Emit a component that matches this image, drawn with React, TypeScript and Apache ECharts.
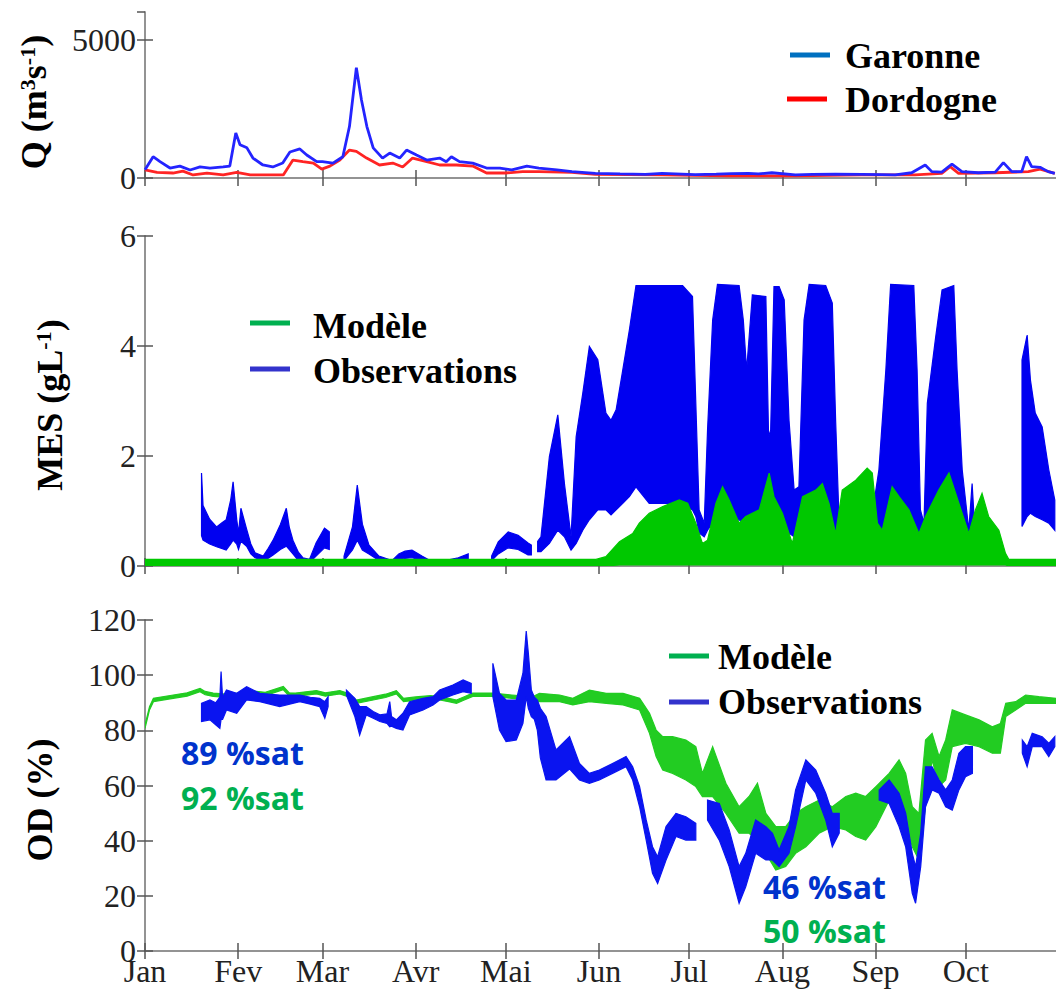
import React, { useEffect, useRef } from "react";
import * as echarts from "echarts";

type Pt = [number, number];
type Band = [number, number, number] | null;

const MONTH_DAYS = [0, 31, 59, 90, 120, 151, 181, 212, 243, 273];
const MONTH_LABELS = ["Jan", "Fev", "Mar", "Avr", "Mai", "Jun", "Jul", "Aug", "Sep", "Oct"];
const X_MAX = 303;

// Débit (m3/s), day of year
const GARONNE: Pt[] = [
  [0, 300], [2.7, 770], [5, 590], [8.3, 360], [11.6, 430], [15, 290], [18.3, 400], [21.6, 360], [26, 400],
  [28.2, 430], [30.2, 1630], [31.6, 1200], [33.9, 1090], [35.9, 720], [39.2, 470], [42.5, 400], [45.8, 540],
  [48.2, 940], [51.5, 1050], [53.8, 830], [57.1, 590], [59, 590], [62.5, 540], [65.8, 770], [68, 1860],
  [70.3, 3985], [72, 2820], [73.8, 1860], [75.9, 1090], [79, 720], [81.4, 900], [84.7, 720], [87, 1010],
  [90.3, 830], [93.7, 650], [98, 720], [100.2, 590], [101.9, 770], [104.6, 590], [109, 540], [113.6, 360],
  [118, 360], [122, 290], [127, 430], [131, 360], [137, 290], [142, 230], [149.8, 170], [158, 150],
  [166.4, 130], [172, 170], [183, 120], [190, 140], [195, 160], [200.7, 170], [204, 150], [208.5, 190],
  [216.3, 110], [222, 130], [229.6, 140], [238.4, 130], [245, 120], [249.5, 110], [255, 190], [259.5, 470],
  [261.7, 230], [265, 210], [268.4, 505], [271.7, 230], [277.2, 190], [282.8, 210], [285.5, 555],
  [288.3, 230], [291.6, 230], [293.2, 770], [294.9, 410], [297.7, 385], [300.4, 230], [302.6, 170],
];
const DORDOGNE: Pt[] = [
  [0, 290], [4, 200], [9.3, 180], [12.6, 250], [16, 110], [20.6, 180], [26, 110], [30.5, 200], [35, 110],
  [40.5, 110], [46, 110], [49.2, 650], [52.5, 590], [56, 540], [58.8, 320], [61.5, 430], [64.8, 650],
  [68, 1010], [70.3, 960], [73.7, 720], [78, 470], [82.4, 540], [85.7, 400], [89, 720], [93.7, 590],
  [98, 470], [103.6, 470], [109, 430], [113.6, 180], [120, 180], [125.6, 230], [131, 230], [142, 200],
  [149.8, 130], [172, 110], [194, 80], [216.3, 80], [238.4, 110], [256.1, 110], [265, 170], [267.8, 410],
  [270.6, 170], [282.8, 190], [293.8, 230], [297.7, 320], [302.6, 170],
];

// MES (g/L): [day, low, high] envelopes, null = gap
const MES_OBS: Band[] = [
  [18.8, 0.55, 1.69], [19.3, 0.47, 1.1], [21.5, 0.4, 0.85], [23.8, 0.35, 0.71], [25.5, 0.32, 0.78],
  [27.0, 0.29, 0.84], [28.5, 0.4, 1.2], [29.3, 0.47, 1.53], [30.5, 0.4, 0.85], [31.1, 0.3, 0.6],
  [31.9, 0.45, 1.05], [33.8, 0.36, 0.67], [35.2, 0.22, 0.4], [36.6, 0.15, 0.24], [39.3, 0.1, 0.18],
  [41.0, 0.14, 0.32], [42.6, 0.2, 0.47], [45.0, 0.3, 0.75], [47.0, 0.36, 1.05], [48.0, 0.3, 0.7],
  [49.2, 0.22, 0.47], [51.0, 0.1, 0.25], [52.5, 0.06, 0.15], [54.7, 0.06, 0.12], [56.9, 0.18, 0.42],
  [59.7, 0.33, 0.69], [61.3, 0.3, 0.62],
  null,
  [66.2, 0.1, 0.18], [69.0, 0.29, 0.71], [70.6, 0.47, 1.47], [72.3, 0.29, 0.76], [74.5, 0.22, 0.38],
  [77.8, 0.1, 0.18], [82.2, 0.04, 0.1], [84.4, 0.1, 0.22], [86.5, 0.14, 0.27], [88.8, 0.15, 0.29],
  [92.1, 0.1, 0.18], [95.4, 0.04, 0.08], [99.8, 0.04, 0.1], [104.2, 0.08, 0.15], [107.5, 0.1, 0.22],
  null,
  [115.3, 0.1, 0.18], [117.5, 0.22, 0.44], [120.8, 0.33, 0.62], [124.1, 0.3, 0.56], [127.4, 0.2, 0.42],
  [128.5, 0.2, 0.38],
  null,
  [130.6, 0.26, 0.45], [131.7, 0.26, 0.53], [134.5, 0.41, 1.99], [137.3, 0.65, 2.75], [139.5, 0.53, 1.5],
  [141.7, 0.29, 0.53], [143.4, 0.41, 2.35], [145.6, 0.65, 3.14], [147.8, 0.84, 3.99], [150.6, 1.02, 3.75],
  [153.3, 1.02, 2.78], [155.0, 0.93, 2.65], [156.7, 1.02, 2.84], [158.9, 1.14, 3.56], [161.1, 1.26, 4.29],
  [163.3, 1.44, 5.1], [167.7, 1.14, 5.1], [173.3, 1.14, 5.1], [178.8, 1.14, 5.1], [182.1, 1.02, 4.9],
  [183.2, 0.9, 2.96], [184.3, 0.6, 1.02], [186.0, 0.53, 0.78], [187.1, 0.65, 2.47], [188.8, 0.78, 4.47],
  [190.4, 0.84, 5.12], [197.6, 0.84, 5.1], [199.0, 0.78, 4.47], [200.1, 0.78, 3.56], [202.0, 0.78, 4.93],
  [206.5, 0.78, 4.9], [207.4, 0.78, 2.35], [208.1, 0.78, 2.47], [209.2, 0.78, 5.08], [210.9, 0.78, 5.08],
  [212.6, 0.72, 4.84], [214.2, 0.6, 2.65], [215.9, 0.53, 1.38], [217.5, 0.6, 1.44], [219.2, 0.65, 4.47],
  [220.9, 0.65, 5.12], [226.4, 0.65, 5.1], [228.6, 0.6, 4.78], [229.7, 0.53, 2.65], [230.8, 0.41, 0.9],
  [236.4, 0.45, 0.9], [241.9, 0.45, 0.95], [244.1, 0.41, 1.75], [246.4, 0.53, 3.56], [248.0, 0.6, 5.12],
  [255.7, 0.6, 5.1], [256.8, 0.53, 3.56], [257.9, 0.41, 1.02], [259.1, 0.41, 0.78], [260.2, 0.53, 2.96],
  [263.0, 0.65, 4.17], [265.1, 0.65, 5.02], [269.0, 0.6, 5.1], [270.1, 0.6, 3.56], [271.8, 0.6, 1.75],
  [274.0, 0.41, 0.65], [275.1, 0.47, 1.5], [276.0, 0.41, 0.65],
  null,
  [291.7, 0.72, 3.75], [293.4, 0.9, 4.2], [294.5, 0.96, 3.38], [296.1, 0.9, 2.78], [298.4, 0.84, 2.53],
  [300.6, 0.78, 1.75], [302.6, 0.65, 1.2],
];
const MES_MODEL: Band[] = [
  [0, 0, 0.12], [40, 0, 0.12], [80, 0, 0.12], [120, 0, 0.12], [150, 0, 0.12], [153.3, 0, 0.17],
  [157.8, 0.02, 0.44], [162.2, 0.02, 0.59], [164.4, 0.02, 0.78], [167.7, 0.02, 0.96], [172.2, 0.02, 1.08],
  [177.7, 0.02, 1.2], [180.5, 0.02, 1.14], [183.2, 0.02, 0.78], [185.4, 0.02, 0.41], [187.1, 0.02, 0.47],
  [189.9, 0.02, 1.14], [192.1, 0.02, 1.44], [194.3, 0.02, 1.2], [197.6, 0.02, 0.78], [199.8, 0.02, 0.9],
  [204.3, 0.02, 1.02], [207.6, 0.02, 1.69], [209.2, 0.02, 1.26], [212.0, 0.02, 0.96], [215.3, 0.02, 0.41],
  [218.7, 0.02, 1.26], [223.1, 0.02, 1.38], [225.3, 0.02, 1.5], [227.5, 0.02, 1.14], [229.7, 0.02, 0.59],
  [231.9, 0.02, 1.38], [236.4, 0.02, 1.56], [240.2, 0.02, 1.78], [241.9, 0.02, 1.69], [243.6, 0.02, 0.78],
  [245.2, 0.02, 0.65], [248.5, 0.02, 1.44], [250.8, 0.02, 1.26], [254.1, 0.02, 1.02], [257.4, 0.02, 0.59],
  [259.6, 0.02, 0.9], [264.0, 0.02, 1.38], [267.4, 0.02, 1.69], [270.7, 0.02, 1.14], [274.0, 0.02, 0.59],
  [276.2, 0.02, 1.02], [278.4, 0.02, 1.32], [280.6, 0.02, 0.9], [284.0, 0.02, 0.65], [286.2, 0.02, 0.23],
  [287.3, 0, 0.12], [303, 0, 0.12],
];

// OD (% sat): [day, low, high]
const OD_MODEL: Band[] = [
  [0, 80.7, 81.9], [1.5, 87.4, 88.6], [2.8, 90.4, 91.6], [9.4, 91.6, 92.8], [14, 92.4, 93.6], [18.3, 94, 95.2],
  [20, 92.9, 94.1], [22.7, 92.3, 93.5], [27, 91.9, 93.1], [31.6, 92.3, 93.5], [35, 93.2, 94.4], [40, 92.6, 93.8],
  [46, 94.7, 95.9], [48, 92.4, 93.6], [50, 92.3, 93.5], [57, 93.2, 94.4], [60, 92.4, 93.6], [64.8, 93.2, 94.4],
  [67, 92.4, 93.6], [70.3, 89.8, 91], [75.9, 91, 92.2], [80, 91.9, 93.1], [83.6, 93.2, 94.4], [86, 90.4, 91.6],
  [90, 90.9, 92.1], [95, 91.4, 92.6], [98, 91, 92.2], [101, 90.4, 91.6], [103.6, 89.8, 91], [106, 90.9, 92.1],
  [109, 92.3, 93.5], [115.6, 92.3, 93.5], [122, 91.6, 92.8], [128.9, 91, 92.2], [131.2, 90.4, 93.4],
  [137.9, 90.4, 92.8], [142.3, 89.2, 91.6], [147.8, 90.4, 94.6], [153.4, 89.8, 93.4], [159, 89.2, 93.4],
  [164.5, 87.4, 91.6], [167.8, 78.9, 86.2], [170.0, 70.5, 80.1], [172.2, 65.6, 77.7], [175.5, 64.4, 77.7],
  [179.9, 62.0, 76.5], [183.2, 59.6, 74.1], [185.4, 56.0, 64.4], [188.8, 56.0, 74.1], [193.2, 49.9, 60.8],
  [197.6, 42.7, 52.3], [200.9, 42.7, 56.0], [203.7, 40.2, 60.8], [206.5, 35.4, 49.9], [209.8, 29.4, 45.1],
  [213.1, 30.6, 45.1], [216.4, 35.4, 49.9], [219.8, 37.8, 52.3], [224.2, 42.7, 54.7], [228.6, 45.1, 52.3],
  [233.1, 43.9, 56.0], [236.4, 41.5, 57.2], [239.7, 40.2, 56.0], [243.1, 45.1, 59.6], [247.5, 54.7, 64.4],
  [250.8, 52.3, 69.3], [253.0, 47.5, 64.4], [255.2, 37.8, 52.3], [257.4, 33.0, 49.9], [259.6, 52.3, 76.5],
  [261.8, 69.3, 78.9], [264.1, 59.6, 70.5], [266.3, 62.0, 76.5], [268.5, 74.1, 87.4], [272.9, 75.3, 85.6],
  [277.4, 74.1, 83.8], [281.8, 71.7, 81.3], [284.5, 71.7, 82.5], [286.3, 85.0, 89.8], [289.6, 87.4, 90.4],
  [292.9, 89.8, 92.8], [297.3, 89.8, 92.2], [303, 89.8, 91.6],
];
const OD_OBS: Band[] = [
  [18.8, 83.2, 89.8], [21.6, 83.8, 91.0], [23.5, 82, 90], [24.9, 80.7, 92.0], [25.3, 84, 101.3], [25.8, 84, 92],
  [27.1, 87.4, 94.6], [30.5, 86.2, 93.4], [33.8, 91.0, 95.8], [38.2, 90.4, 93.4], [44.8, 88.6, 92.8],
  [51.5, 90.4, 92.8], [55, 89.5, 92], [58.1, 88.6, 91.6], [59.8, 84.4, 90.4], [60.9, 88.6, 92.2],
  null,
  [67.0, 92.8, 94.6], [69.8, 85.0, 91.6], [71.4, 78.3, 88.6], [73.6, 85.6, 88.6], [75.9, 84.4, 86.8],
  [78.1, 83.2, 85.6], [80.5, 82.5, 86], [81.4, 81.3, 90.4], [82, 81.5, 85], [83.6, 80.7, 83.8],
  [85.8, 80.1, 86.2], [88.0, 85.6, 90.4], [92.5, 87.4, 91.6], [95.8, 89.2, 92.2], [98.0, 91.0, 94.6],
  [102.4, 92.8, 96.4], [105.8, 94.0, 98.3], [108.5, 93.4, 97.0],
  null,
  [115.7, 92.2, 104.3], [117.9, 80.1, 93.4], [120.1, 75.9, 91.0], [123.5, 76.5, 91.0], [125.7, 82.5, 100.7],
  [126.8, 92.2, 116], [127.5, 88, 108], [128.5, 85.0, 94.6], [129.5, 84, 92], [130.5, 80, 91],
  [131.5, 70, 88], [133.4, 62, 85], [136.7, 62, 72.9], [141.2, 66, 77.7], [144.5, 62, 68], [147.8, 60.8, 64.4],
  [151.1, 62, 65.6], [155.5, 64.4, 68], [160.0, 66.8, 70.5], [162.2, 62, 66.8], [164.5, 52.3, 59.6],
  [166.7, 40.2, 47.5], [168.8, 28.2, 37.8], [170.5, 24.5, 34.2], [173.3, 33, 45.1], [176.6, 41.5, 49.9],
  [179.9, 40.2, 48.7], [183.2, 40.2, 46.3],
  null,
  [187.1, 47.5, 54.7], [191.0, 40.2, 53.5], [194.3, 30.6, 43.9], [197.6, 17.3, 30.6], [199.8, 23.3, 35.4],
  [203.1, 35.4, 47.5], [206.5, 33.0, 45.1], [208.7, 33.0, 42.7], [210.9, 30.6, 36.6], [214.2, 35.4, 45.1],
  [216.4, 45.1, 58.4], [219.8, 62.0, 69.3], [223.1, 57.2, 65.6], [226.4, 47.5, 57.2], [228.6, 37.8, 49.9],
  [230.9, 42.7, 49.9],
  null,
  [244.2, 54.7, 58.4], [247.5, 53.5, 62.0], [250.8, 45.1, 57.2], [253.0, 37.8, 50], [255.2, 20.9, 35.4],
  [256.3, 17.3, 30.6], [258.0, 30.6, 42.7], [259.6, 52.3, 66.8], [261.8, 58.4, 66.8], [264.1, 57.2, 62.0],
  [266.3, 52.3, 58.4], [268.5, 51.1, 62.0], [270.7, 58.4, 71.7], [272.9, 63.2, 74.1], [275.2, 64.4, 74.1],
  null,
  [291.8, 71.7, 76.5], [293.4, 66.8, 74.1], [295.1, 74.1, 78.9], [298.4, 74.1, 77.7], [300.6, 70.5, 75.3],
  [302.6, 74.1, 77.7],
];

const SERIF = '"Liberation Serif", "Times New Roman", serif';
const AXIS_GRAY = "#8c8c8c";

function toSegments(points: Band[]): [number, number, number][][] {
  const segs: [number, number, number][][] = [];
  let cur: [number, number, number][] = [];
  for (const p of points) {
    if (p === null) {
      if (cur.length) segs.push(cur);
      cur = [];
    } else cur.push(p);
  }
  if (cur.length) segs.push(cur);
  return segs;
}

function bandSeries(name: string, points: Band[], color: string, idx: number, z: number) {
  const segs = toSegments(points);
  return {
    type: "custom",
    name,
    xAxisIndex: idx * 2,
    yAxisIndex: idx * 2,
    z,
    clip: true,
    data: segs.map((s, k) => [s[0][0], s[0][2], k]),
    encode: { x: 0, y: 1 },
    renderItem: (_params: any, api: any) => {
      const seg = segs[api.value(2)];
      const pts: number[][] = [];
      for (const p of seg) pts.push(api.coord([p[0], p[2]]));
      for (let i = seg.length - 1; i >= 0; i--) pts.push(api.coord([seg[i][0], seg[i][1]]));
      return {
        type: "polygon",
        shape: { points: pts },
        style: { fill: color, stroke: color, lineWidth: 1.2 },
      };
    },
  };
}

const GRIDS = [
  { top: 12, height: 166 },
  { top: 236, height: 330 },
  { top: 620, height: 331 },
];
const Y_RANGES = [
  { min: 0, max: 6000, interval: 5000 },
  { min: 0, max: 6, interval: 2 },
  { min: 0, max: 120, interval: 20 },
];

function buildOption() {
  const grid = GRIDS.map((g) => ({ left: 145, width: 913, top: g.top, height: g.height }));
  const xAxis: any[] = [];
  const yAxis: any[] = [];
  GRIDS.forEach((_, i) => {
    const base = {
      type: "value",
      gridIndex: i,
      min: 0,
      max: X_MAX,
      splitLine: { show: false },
      axisLine: { show: true, lineStyle: { color: AXIS_GRAY, width: 1.5 } },
      axisTick: { show: true, inside: true, length: 8, customValues: MONTH_DAYS, lineStyle: { color: "#555", width: 1.5 } },
    };
    xAxis.push({
      ...base,
      position: "bottom",
      axisLabel: {
        show: i === 2,
        customValues: MONTH_DAYS,
        formatter: (v: number) => {
          const k = MONTH_DAYS.indexOf(v);
          return k >= 0 ? MONTH_LABELS[k] : "";
        },
        fontFamily: SERIF,
        fontSize: 32,
        color: "#222",
        margin: 4,
      },
    });
    xAxis.push({ ...base, position: "top", axisLabel: { show: false } });
    const yr = Y_RANGES[i];
    const ybase = {
      type: "value",
      gridIndex: i,
      min: yr.min,
      max: yr.max,
      interval: yr.interval,
      splitLine: { show: false },
      axisLine: { show: true, lineStyle: { color: AXIS_GRAY, width: 1.5 } },
      axisTick: { show: true, inside: true, length: 8, lineStyle: { color: "#555", width: 1.5 } },
    };
    yAxis.push({
      ...ybase,
      position: "left",
      axisLabel: {
        show: true,
        showMaxLabel: i !== 0,
        formatter: (v: number) => String(v),
        fontFamily: SERIF,
        fontSize: 32,
        color: "#222",
        margin: 9,
      },
    });
    yAxis.push({ ...ybase, position: "right", axisLabel: { show: false } });
  });

  const series: any[] = [
    {
      type: "line",
      name: "Garonne",
      xAxisIndex: 0,
      yAxisIndex: 0,
      data: GARONNE,
      showSymbol: false,
      lineStyle: { color: "#2424ff", width: 2.8 },
      itemStyle: { color: "#2424ff" },
      z: 3,
    },
    {
      type: "line",
      name: "Dordogne",
      xAxisIndex: 0,
      yAxisIndex: 0,
      data: DORDOGNE,
      showSymbol: false,
      lineStyle: { color: "#ff2424", width: 2.8 },
      itemStyle: { color: "#ff2424" },
      z: 2,
    },
    bandSeries("MES Observations", MES_OBS, "#0000f0", 1, 2),
    bandSeries("MES Modèle", MES_MODEL, "#00c800", 1, 3),
    bandSeries("OD Modèle", OD_MODEL, "#22cc22", 2, 2),
    bandSeries("OD Observations", OD_OBS, "#0a14f0", 2, 3),
  ];

  const legendText = (text: string, x: number, y: number) => ({
    type: "text",
    x,
    y,
    z: 100,
    style: {
      text,
      fill: "#000",
      font: `bold 36px ${SERIF}`,
      align: "left",
      verticalAlign: "middle",
      textAlign: "left",
      textVerticalAlign: "middle",
    },
  });
  const legendLine = (x: number, y: number, color: string) => ({
    type: "rect",
    z: 100,
    shape: { x, y: y - 2.5, width: 40, height: 5 },
    style: { fill: color },
  });
  const annot = (text: string, x: number, y: number, color: string) => ({
    type: "text",
    x,
    y,
    z: 100,
    style: {
      text,
      fill: color,
      font: `bold 32px "Open Sans", "Noto Sans", sans-serif`,
      align: "left",
      verticalAlign: "middle",
      textAlign: "left",
      textVerticalAlign: "middle",
    },
  });
  const richBase = { fontFamily: SERIF, fontWeight: "bold", fontSize: 36, color: "#000" };
  const richSup = { fontFamily: SERIF, fontWeight: "bold", fontSize: 22, color: "#000", verticalAlign: "top" };
  const axisTitle = (text: string, x: number, y: number) => ({
    type: "text",
    x,
    y,
    rotation: Math.PI / 2,
    z: 100,
    style: {
      text,
      rich: { b: richBase, s: richSup },
      align: "center",
      verticalAlign: "middle",
      textAlign: "center",
      textVerticalAlign: "middle",
    },
  });

  const graphic = [
    axisTitle("{b|Q (m}{s|3}{b|s}{s|-1}{b|)}", 34, 102),
    axisTitle("{b|MES (gL}{s|-1}{b|)}", 50, 405),
    axisTitle("{b|OD (%)}", 40, 800),
    legendLine(790, 55, "#0070C0"),
    legendText("Garonne", 845, 56),
    legendLine(787, 99, "#FF0000"),
    legendText("Dordogne", 845, 100),
    legendLine(250, 323, "#00B050"),
    legendText("Modèle", 313, 326),
    legendLine(250, 369, "#3333CC"),
    legendText("Observations", 313, 371),
    legendLine(669, 656, "#00B050"),
    legendText("Modèle", 718, 657),
    legendLine(669, 702, "#3333CC"),
    legendText("Observations", 718, 702),
    annot("89 %sat", 181, 752, "#0033CC"),
    annot("92 %sat", 181, 797, "#00B050"),
    annot("46 %sat", 763, 886, "#0033CC"),
    annot("50 %sat", 763, 930, "#00B050"),
  ];

  return {
    animation: false,
    backgroundColor: "#ffffff",
    grid,
    xAxis,
    yAxis,
    series,
    graphic,
  };
}

export default function App() {
  const ref = useRef<HTMLDivElement>(null);
  useEffect(() => {
    if (!ref.current) return;
    const chart = echarts.init(ref.current, null, { renderer: "svg" });
    chart.setOption(buildOption() as any);
    return () => chart.dispose();
  }, []);
  return (
    <div
      ref={ref}
      style={{ position: "absolute", left: 0, top: 0, width: 1056, height: 997, background: "#fff" }}
    />
  );
}
